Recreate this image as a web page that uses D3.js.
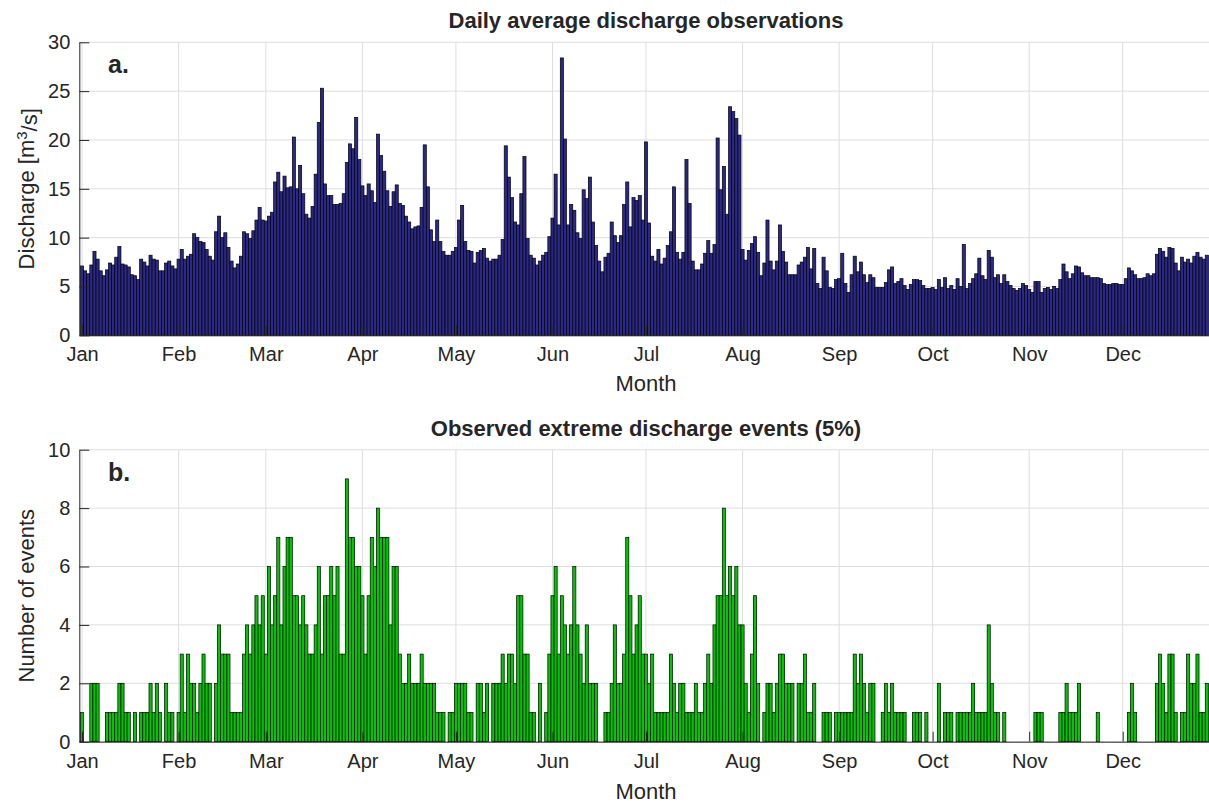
<!DOCTYPE html>
<html><head><meta charset="utf-8">
<script src="https://cdn.jsdelivr.net/npm/d3@7/dist/d3.min.js"></script>
<style>
body{margin:0;background:#fff}
svg{display:block}
text{font-family:"Liberation Sans",Arial,Helvetica,sans-serif;fill:#262626}
</style>
</head><body>
<svg id="c" width="1209" height="805"></svg>
<script>
// ---------------- data ----------------
const months = ["Jan","Feb","Mar","Apr","May","Jun","Jul","Aug","Sep","Oct","Nov","Dec"];
const monthStartDays = [0,31,59,90,120,151,181,212,243,273,304,334];
const dischargeTicks = [0,5,10,15,20,25,30];
const eventTicks = [0,2,4,6,8,10];

// daily average discharge (m3/s), day-of-year index 0..361 (visible part)
const discharge = [
7.1,6.6,6.3,7.2,8.6,7.8,6.6,6.1,6.7,7.4,7.2,8.0,9.1,7.3,7.2,7.0,6.2,6.1,5.7,7.8,
7.5,7.1,8.2,7.8,7.7,6.6,6.6,7.4,7.6,7.1,6.8,7.8,8.8,7.8,8.1,8.3,10.4,10.0,9.6,9.5,
8.8,8.1,7.7,10.6,12.2,10.0,10.5,9.0,7.6,6.9,7.3,8.1,10.6,10.4,9.9,10.7,11.8,13.1,11.8,11.7,
12.2,12.6,15.7,16.7,14.7,16.3,15.1,15.2,20.3,15.0,17.4,14.5,12.4,12.0,13.2,16.5,21.8,25.3,15.5,14.3,
14.3,13.4,13.4,13.5,14.5,17.7,19.6,19.1,22.3,18.0,15.3,14.3,15.5,14.8,13.6,20.6,18.4,16.8,14.8,13.2,
14.7,15.4,13.5,13.3,12.2,11.6,10.9,11.1,11.2,13.1,19.5,15.2,10.8,9.6,11.8,9.6,8.6,8.2,8.2,8.6,
9.0,11.8,13.3,9.6,8.7,8.6,7.4,8.5,8.7,8.9,7.9,7.6,7.8,7.8,8.2,9.8,19.4,16.2,14.1,11.6,
11.3,14.5,18.3,9.9,8.2,7.9,7.2,7.6,8.2,8.5,10.1,12.0,16.5,11.3,28.4,20.1,11.3,13.4,12.8,10.5,
9.9,14.9,14.0,16.2,11.6,9.2,7.6,6.5,8.0,8.4,11.6,10.2,9.5,10.2,13.4,15.7,11.1,14.1,13.8,14.3,
11.8,19.8,11.5,8.1,7.6,8.8,7.3,7.9,9.2,10.6,15.2,8.5,7.8,8.5,18.0,13.5,7.6,6.7,6.7,7.3,
8.4,9.7,8.4,9.3,20.2,14.9,17.3,12.4,23.4,22.9,22.2,20.5,8.8,7.7,8.7,9.4,10.1,8.5,6.1,7.4,
11.8,7.6,6.7,7.6,11.3,8.6,7.5,6.2,6.2,6.2,7.2,7.5,8.0,9.0,6.8,8.9,5.3,4.8,8.0,6.6,
4.9,4.8,5.7,5.8,8.4,5.3,4.4,6.2,8.1,6.5,7.5,6.2,5.4,6.2,5.9,4.9,4.9,4.9,5.4,6.7,
7.0,5.3,5.5,5.8,5.1,4.7,5.2,5.7,5.7,5.6,5.1,4.8,4.8,4.9,4.7,5.7,4.9,5.9,4.8,5.1,
4.7,5.8,5.0,9.3,4.8,5.3,5.8,6.3,7.9,6.1,5.7,8.7,8.0,5.9,6.2,5.3,6.2,5.5,5.1,4.8,
4.6,4.8,5.3,5.1,4.7,4.4,5.5,5.5,4.4,4.8,4.9,4.7,5.0,4.8,5.7,7.3,6.5,5.8,6.3,7.1,
7.0,6.4,6.1,6.1,5.9,5.9,5.9,5.8,5.3,5.2,5.2,5.3,5.3,5.2,5.2,5.8,6.9,6.6,6.2,5.8,
5.8,5.9,6.3,6.1,6.3,8.3,8.9,8.6,8.0,9.0,8.9,7.4,6.6,8.0,7.5,7.8,7.4,8.1,8.5,8.0,
7.8,8.2
];

// number of extreme (5%) discharge events per day-of-year, index 0..361
const events = [
1,0,0,2,2,2,0,0,1,1,1,1,2,2,1,1,0,1,0,1,
1,1,2,1,2,1,0,2,1,1,0,1,3,1,3,2,2,1,2,3,
2,2,0,2,4,3,3,3,1,1,1,1,3,4,3,4,5,4,5,3,
6,4,5,7,4,6,7,7,5,5,4,5,4,3,3,4,6,3,5,5,
6,5,6,3,3,9,7,7,6,6,5,3,5,7,6,8,7,7,7,4,
6,6,3,2,2,3,2,2,2,3,2,2,2,2,1,1,1,0,1,1,
2,2,2,2,1,1,0,2,2,1,2,0,2,2,2,3,2,3,3,2,
5,5,3,3,1,1,0,2,0,1,3,5,6,3,5,4,3,4,6,4,
3,2,4,2,2,2,0,0,1,1,2,4,2,2,3,7,5,3,4,5,
3,3,2,3,1,1,1,1,1,3,2,1,2,2,1,1,1,2,1,1,
2,3,2,4,5,5,8,5,6,5,6,4,4,2,1,3,5,2,0,1,
2,2,1,2,3,3,2,2,2,0,2,2,3,1,1,2,0,0,1,1,
1,0,1,1,1,1,1,1,3,2,3,2,1,2,2,0,0,1,2,1,
2,1,1,1,1,0,0,1,1,1,0,1,0,0,0,2,0,1,1,1,
0,1,1,1,1,1,2,1,1,1,1,4,2,1,1,0,1,0,0,0,
0,0,0,0,0,0,1,1,1,0,0,0,0,0,1,1,2,1,1,1,
2,0,0,0,0,0,1,0,0,0,0,0,0,0,0,0,1,2,1,0,
0,0,0,0,0,2,3,2,1,3,3,1,0,1,1,3,2,2,3,1,
1,2
];

// ---------------- layout ----------------
const svg = d3.select("#c");
const W = 1209;
const left = 79.3;
const x = d3.scaleLinear().domain([-0.87, 361.7]).range([left, W]);
const dayW = x(1) - x(0);

const panels = [
  {title:"Daily average discharge observations", tag:"a.", ylab:"discharge",
   data:discharge, ticks:dischargeTicks, ymax:30, top:42.3, bottom:335.3,
   fill:"#2c2888", xlabY:391},
  {title:"Observed extreme discharge events (5%)", tag:"b.", ylab:"Number of events",
   data:events, ticks:eventTicks, ymax:10, top:449.7, bottom:741.7,
   fill:"#00c800", xlabY:799}
];

const gridCol = "#dedede", axCol = "#262626";

panels.forEach(p => {
  const y = d3.scaleLinear().domain([0, p.ymax]).range([p.bottom, p.top]);
  const g = svg.append("g");

  // grid
  g.append("g").selectAll("line.h").data(p.ticks).join("line")
    .attr("x1", left).attr("x2", W).attr("y1", d => y(d)).attr("y2", d => y(d))
    .attr("stroke", gridCol).attr("stroke-width", 1);
  g.append("g").selectAll("line.v").data(monthStartDays).join("line")
    .attr("x1", d => x(d)).attr("x2", d => x(d)).attr("y1", p.top).attr("y2", p.bottom)
    .attr("stroke", gridCol).attr("stroke-width", 1);

  // bars
  g.append("g").selectAll("rect").data(p.data).join("rect")
    .attr("x", (d, i) => x(i - 0.5))
    .attr("width", dayW)
    .attr("y", d => y(d))
    .attr("height", d => y(0) - y(d))
    .attr("fill", p.fill)
    .attr("stroke", "#000")
    .attr("stroke-width", 0.7);

  // axes
  const ya = d3.axisLeft(y).tickValues(p.ticks).tickSizeInner(-10).tickSizeOuter(0).tickPadding(9);
  const yg = g.append("g").attr("transform", `translate(${left},0)`).call(ya);
  const xa = d3.axisBottom(x).tickValues(monthStartDays).tickFormat((d, i) => months[i])
    .tickSizeInner(-10).tickSizeOuter(0).tickPadding(12);
  const xg = g.append("g").attr("transform", `translate(0,${p.bottom})`).call(xa);
  [yg, xg].forEach(a => {
    a.select(".domain").attr("stroke", axCol).attr("stroke-width", 1);
    a.selectAll(".tick line").attr("stroke", axCol).attr("stroke-width", 1);
    a.selectAll(".tick text").attr("fill", axCol).style("font-size", "20px")
      .style("font-family", '"Liberation Sans",Arial,sans-serif');
  });

  // title
  g.append("text").attr("x", 646).attr("y", p.top - 14).attr("text-anchor", "middle")
    .style("font-size", "22px").style("font-weight", "bold").attr("fill", "#000").text(p.title);
  // panel tag
  g.append("text").attr("x", 108).attr("y", p.top + 31)
    .style("font-size", "25px").style("font-weight", "bold").attr("fill", "#000").text(p.tag);
  // x label
  g.append("text").attr("x", 646).attr("y", p.xlabY).attr("text-anchor", "middle")
    .style("font-size", "22px").text("Month");
  // y label
  const yl = g.append("text")
    .attr("transform", `translate(34,${(p.top + p.bottom) / 2}) rotate(-90)`)
    .attr("text-anchor", "middle").style("font-size", "22px");
  if (p.ylab === "discharge") {
    yl.append("tspan").text("Discharge [m");
    yl.append("tspan").attr("dy", "-0.45em").style("font-size", "15px").text("3");
    yl.append("tspan").attr("dy", "0.45em").text("/s]");
  } else {
    yl.text(p.ylab);
  }
});
</script>
</body></html>
